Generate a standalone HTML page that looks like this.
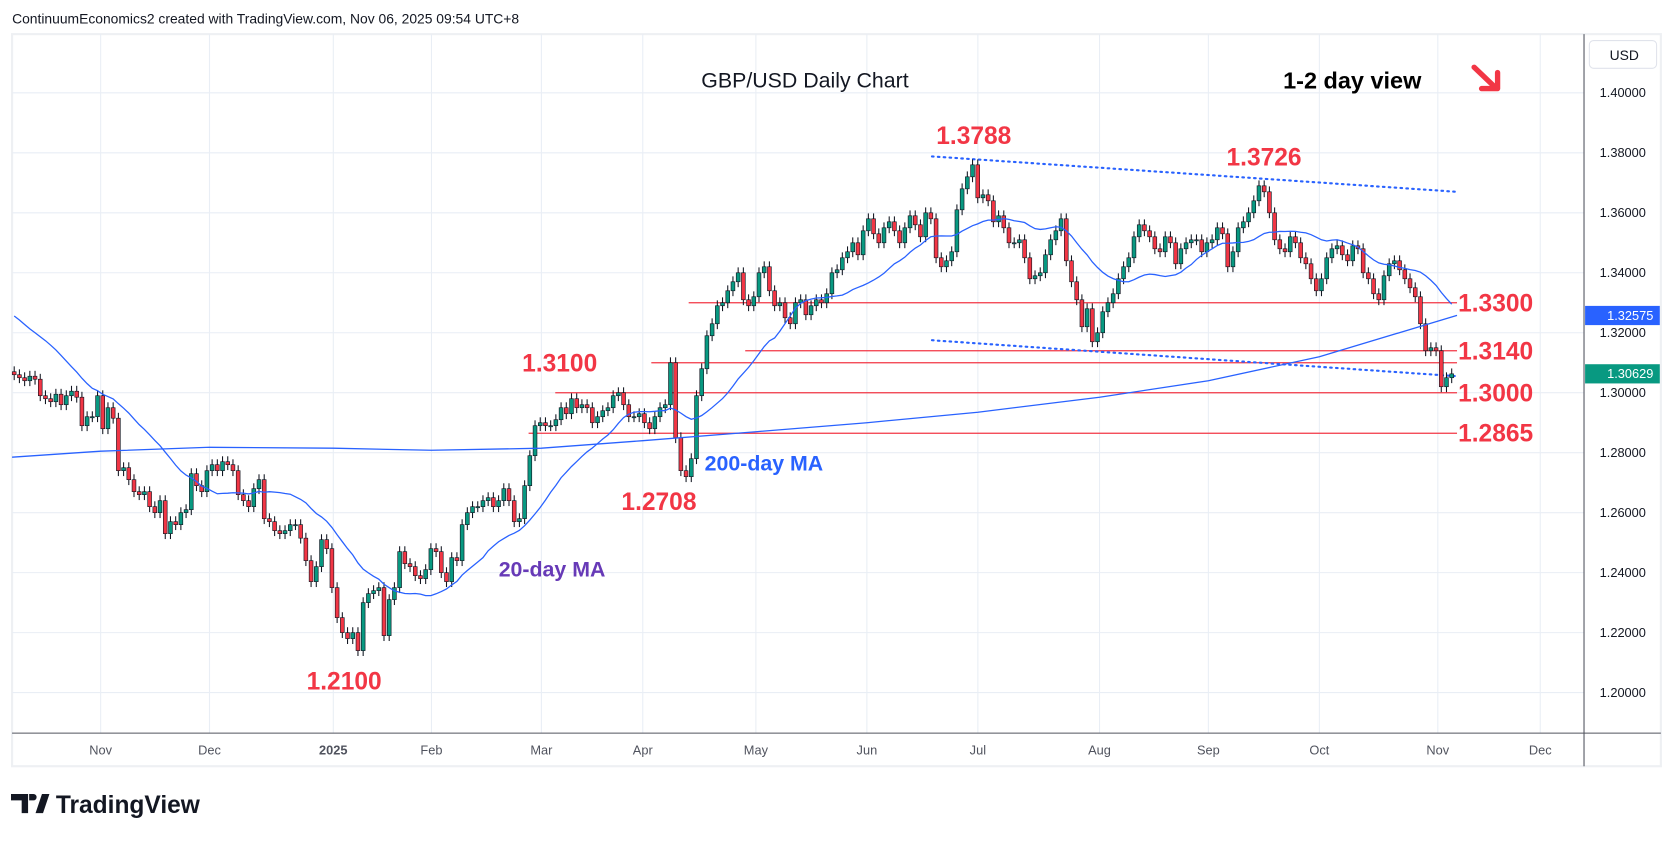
<!DOCTYPE html>
<html><head><meta charset="utf-8"><style>
html,body{margin:0;padding:0;background:#fff;width:1674px;height:842px;overflow:hidden;font-family:"Liberation Sans",sans-serif}
</style></head><body>
<svg id="chart" width="1674" height="842" viewBox="0 0 1568 789" xmlns="http://www.w3.org/2000/svg" font-family="Liberation Sans, sans-serif">
<text x="11" y="22" font-size="13" fill="#131722">ContinuumEconomics2 created with TradingView.com, Nov 06, 2025 09:54 UTC+8</text>
<rect x="11" y="32" width="1545" height="686" fill="none" stroke="#eef0f3" stroke-width="2"/>
<g id="grid"></g>
<g id="levels"></g>
<g id="candles"></g>
<g id="mas"></g>
<line x1="1484" y1="32" x2="1484" y2="718" stroke="#50535e" stroke-width="1"/>
<line x1="11" y1="687" x2="1556" y2="687" stroke="#50535e" stroke-width="1"/>
<rect x="1489" y="38" width="63" height="26" rx="4" fill="#fff" stroke="#e0e3eb"/>
<text x="1508" y="56" font-size="13" fill="#131722">USD</text>
<g id="axis"></g>
<text x="754" y="82" font-size="20" fill="#131722" text-anchor="middle">GBP/USD Daily Chart</text>
<text x="1202" y="83" font-size="22" font-weight="bold" fill="#000">1-2 day view</text>
<g stroke="#f23645" stroke-width="5" fill="none" stroke-linecap="round" stroke-linejoin="round"><line x1="1381" y1="63" x2="1401" y2="82"/><polyline points="1388,83 1403,83 1403,68"/></g>
<text x="660" y="441" font-size="20" fill="#2962ff" font-weight="bold">200-day MA</text>
<text x="467" y="540" font-size="20" fill="#673ab7" font-weight="bold">20-day MA</text>
<text x="877" y="135" font-size="23" font-weight="bold" fill="#f23645">1.3788</text>
<text x="1149" y="155" font-size="23" font-weight="bold" fill="#f23645">1.3726</text>
<text x="489" y="348" font-size="23" font-weight="bold" fill="#f23645">1.3100</text>
<text x="582" y="478" font-size="23" font-weight="bold" fill="#f23645">1.2708</text>
<text x="287" y="646" font-size="23" font-weight="bold" fill="#f23645">1.2100</text>
<g>
<path d="M10 744 h16 v18 h-6 v-12 h-10z M27 744 h4 a3 3 0 0 1 0 6 h-4z M33 762 l6 -18 h7 l-6 18z" fill="#131722"/>
<text x="52" y="762" font-size="23" font-weight="bold" fill="#131722">TradingView</text>
</g>
</svg>
<script>
const priorCloses=[1.3320,1.3340,1.3350,1.3300,1.3260,1.3240,1.3270,1.3310,1.3330,1.3360,1.3380,1.3350,1.3300,1.3280,1.3230,1.3150,1.3120,1.3100,1.3070];
const closes=[
1.3060,1.3050,1.3040,1.3055,1.3045,1.2990,1.2980,1.2970,1.2995,1.2960,1.2990,1.3005,1.2985,1.2890,
1.2920,1.2920,1.2990,1.2880,1.2950,1.2915,1.2740,1.2750,1.2710,1.2670,1.2660,1.2670,1.2620,1.2600,1.2640,1.2530,1.2570,1.2560,1.2600,1.2610,1.2730,
1.2690,1.2670,1.2740,1.2760,1.2740,1.2770,1.2760,1.2740,1.2660,1.2640,1.2620,1.2680,1.2710,1.2580,1.2570,1.2540,1.2530,1.2540,1.2560,1.2560,1.2515,
1.2440,1.2370,1.2420,1.2510,1.2480,1.2350,1.2250,1.2200,1.2180,1.2200,1.2140,1.2300,1.2330,1.2340,1.2350,1.2190,1.2310,1.2350,1.2470,1.2430,1.2420,1.2390,
1.2380,1.2410,1.2480,1.2470,1.2400,1.2370,1.2450,1.2440,1.2560,1.2600,1.2620,1.2620,1.2640,1.2650,1.2620,1.2640,1.2680,1.2640,1.2570,1.2580,
1.2690,1.2790,1.2890,1.2900,1.2890,1.2890,1.2910,1.2950,1.2930,1.2980,1.2950,1.2960,1.2950,1.2900,1.2920,1.2940,1.2950,1.2990,1.3000,1.2960,1.2920,
1.2920,1.2930,1.2900,1.2880,1.2920,1.2950,1.2960,1.3100,1.2850,1.2740,1.2720,1.2780,1.2990,1.3080,1.3190,1.3230,1.3290,1.3300,1.3340,1.3370,1.3400,1.3310,
1.3290,1.3320,1.3400,1.3420,1.3340,1.3290,1.3300,1.3250,1.3230,1.3300,1.3310,1.3260,1.3290,1.3310,1.3300,1.3330,1.3400,1.3410,1.3450,1.3470,1.3500,1.3460,
1.3540,1.3580,1.3530,1.3500,1.3550,1.3570,1.3540,1.3500,1.3550,1.3590,1.3560,1.3520,1.3600,1.3580,1.3450,1.3420,1.3440,1.3470,1.3610,1.3680,1.3720,
1.3760,1.3650,1.3660,1.3640,1.3570,1.3590,1.3550,1.3500,1.3500,1.3510,1.3450,1.3380,1.3390,1.3400,1.3460,1.3510,1.3540,1.3580,1.3440,1.3370,1.3310,1.3220,
1.3280,1.3170,1.3200,1.3270,1.3300,1.3330,1.3380,1.3420,1.3450,1.3520,1.3560,1.3540,1.3520,1.3480,1.3470,1.3520,1.3500,1.3430,1.3480,1.3500,1.3510,
1.3510,1.3470,1.3500,1.3510,1.3550,1.3530,1.3420,1.3470,1.3550,1.3570,1.3600,1.3640,1.3690,1.3670,1.3600,1.3510,1.3480,1.3470,1.3520,1.3500,1.3450,1.3430,
1.3380,1.3340,1.3380,1.3450,1.3480,1.3490,1.3460,1.3440,1.3490,1.3480,1.3400,1.3380,1.3330,1.3310,1.3390,1.3430,1.3440,1.3410,1.3380,1.3350,1.3320,1.3230,1.3140,
1.3150,1.3140,1.3020,1.3050,1.3063];
const ma200=[1.2785,1.2805,1.2818,1.2815,1.2808,1.2815,1.2840,1.2870,1.2900,1.2935,1.2985,1.3040,1.3120,1.3258];
const monthLabels=["Nov","Dec","2025","Feb","Mar","Apr","May","Jun","Jul","Aug","Sep","Oct","Nov","Dec"];
const priceTicks=[1.40,1.38,1.36,1.34,1.32,1.30,1.28,1.26,1.24,1.22,1.20];
const levels=[1.3300,1.3140,1.3100,1.3000,1.2865];
const levelLabels=["1.3300","1.3140","","1.3000","1.2865"];
const NS="http://www.w3.org/2000/svg";
const monthX=[94,196,312,404,507,602,708,812,916,1030,1132,1236,1347,1443];
const ma200X=[11].concat(monthX.slice(0,12)).concat([1365]);
const levelStart=[645,698,610,520,495];
function y(p){return 368-(p-1.30)*2810;}
function x(i){return 13+i*(1347/(closes.length-1));}
function mk(tag,attrs,parent){const e=document.createElementNS(NS,tag);for(const k in attrs)e.setAttribute(k,attrs[k]);parent.appendChild(e);return e;}
const grid=document.getElementById('grid'),axis=document.getElementById('axis');
priceTicks.forEach((p,i)=>{
 const l=mk('line',{x1:11,x2:1484,y1:y(p),y2:y(p),stroke:'#e9eef5'},grid);
 
 
 const t=mk('text',{x:1542,y:y(p)+4,'font-size':12,fill:'#131722','text-anchor':'end'},axis);
 t.textContent=p.toFixed(5);
 
 
});
monthLabels.forEach((m,i)=>{
 const l=mk('line',{x1:monthX[i],x2:monthX[i],y1:32,y2:687,stroke:'#e9eef5'},grid);
 
 
 const t=mk('text',{x:monthX[i],y:707,'font-size':12,fill:'#50535e','text-anchor':'middle','font-weight':m==='2025'?'bold':'normal'},axis);
 t.textContent=m;
 
 
});
const lv=document.getElementById('levels');
levels.forEach((p,i)=>{
 const l=mk('line',{x1:levelStart[i],x2:1365,y1:y(p),y2:y(p),stroke:'#f23645','stroke-width':1.2},lv);
 
 
 if(levelLabels[i]){
  const t=mk('text',{x:1366,y:y(p)+8,'font-size':23,'font-weight':'bold',fill:'#f23645'},lv);
  t.textContent=levelLabels[i];
  
  
 }
});
[[873,1.3788,1365,1.3670],[873,1.3175,1365,1.3055]].forEach(a=>{
 const l=mk('line',{x1:a[0],y1:y(a[1]),x2:a[2],y2:y(a[3]),stroke:'#2962ff','stroke-width':2,'stroke-dasharray':'1.5 4','stroke-linecap':'round'},lv);
 
 
});
const cg=document.getElementById('candles');
closes.forEach((c,i)=>{
 const o=i===0?1.3070:closes[i-1];
 const up=c>=o, hi=Math.max(o,c)+0.0018, lo=Math.min(o,c)-0.0018;
 const col=up?'#089981':'#f23645';
 const w=mk('line',{x1:x(i),x2:x(i),y1:y(hi),y2:y(lo),stroke:'#131722','stroke-width':1},cg);
 
 
 const b=mk('rect',{x:x(i)-1.8,y:y(Math.max(o,c)),width:3.6,height:Math.max(1,Math.abs(y(o)-y(c))),fill:col,stroke:'#131722','stroke-width':0.6},cg);
 
 
});
const all=priorCloses.concat(closes);
let pts=[];
closes.forEach((c,i)=>{const s=all.slice(i,i+20);const m=s.reduce((a,b)=>a+b,0)/s.length;pts.push(x(i)+','+y(m));});
const mg=document.getElementById('mas');
const p20=mk('polyline',{points:pts.join(' '),fill:'none',stroke:'#2962ff','stroke-width':1.2},mg);


const p200=mk('polyline',{points:ma200.map((v,i)=>ma200X[i]+','+y(v)).join(' '),fill:'none',stroke:'#2962ff','stroke-width':1.2},mg);


[[1.32575,'#2962ff','ma200-price-tag'],[1.3063,'#089981','last-price-tag']].forEach(a=>{
 const r=mk('rect',{x:1485,y:y(a[0])-9,width:70,height:18,fill:a[1]},axis);
 
 
 const t=mk('text',{x:1549,y:y(a[0])+4,'font-size':12,fill:'#fff','text-anchor':'end'},axis);
 t.textContent=a[0].toFixed(5).replace('1.30630','1.30629');
 
 
});
</script>
</body></html>
